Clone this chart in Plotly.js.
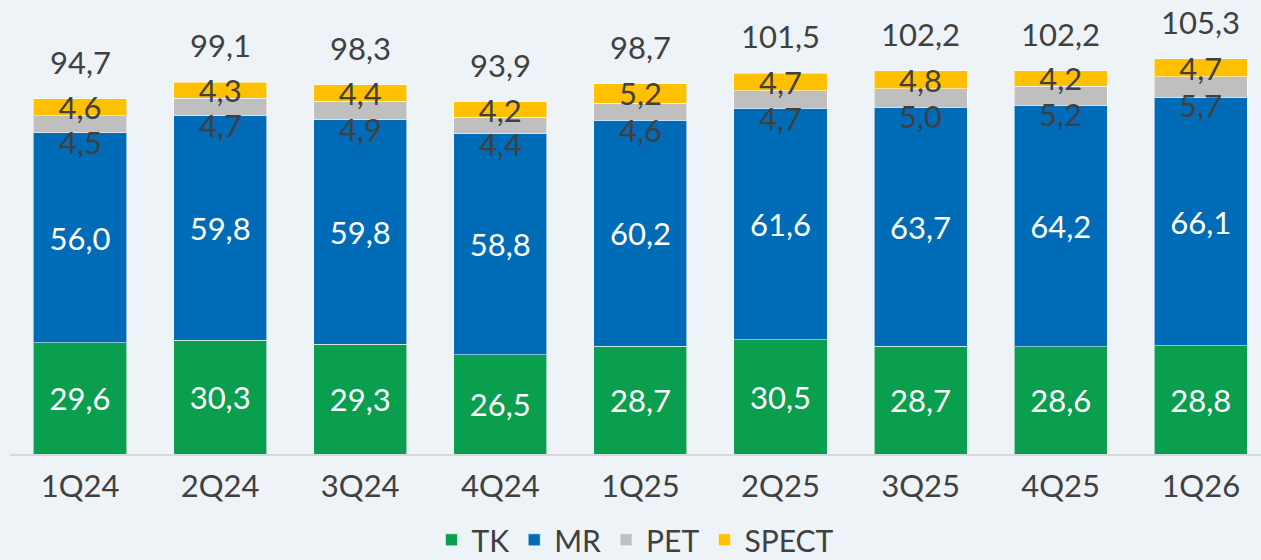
<!DOCTYPE html>
<html>
<head>
<meta charset="utf-8">
<script src="https://cdn.plot.ly/plotly-3.0.1.min.js"></script>
<style>
  html, body { margin: 0; padding: 0; background: #eef3f7; }
  #plot { width: 1261px; height: 560px; }
</style>
</head>
<body>
<div id="plot"></div>
<script>
// quarters
var quarters = ['1Q24', '2Q24', '3Q24', '4Q24', '1Q25', '2Q25', '3Q25', '4Q25', '1Q26'];

// values by segment
var tk = [29.6, 30.3, 29.3, 26.5, 28.7, 30.5, 28.7, 28.6, 28.8];
var mr = [56.0, 59.8, 59.8, 58.8, 60.2, 61.6, 63.7, 64.2, 66.1];
var pet = [4.5, 4.7, 4.9, 4.4, 4.6, 4.7, 5.0, 5.2, 5.7];
var spect = [4.6, 4.3, 4.4, 4.2, 5.2, 4.7, 4.8, 4.2, 4.7];
var totals = [94.7, 99.1, 98.3, 93.9, 98.7, 101.5, 102.2, 102.2, 105.3];

var fontName = 'Lato, "Open Sans", sans-serif';
var fontSize = 31;
var darkText = '#404040';
var edge = { color: 'rgba(255,255,255,0.55)', width: 1 };

function barTrace(name, values, color, textColor, showText) {
    return {
        x: quarters,
        y: values,
        type: 'bar',
        name: name,
        marker: { color: color, line: edge },
        texttemplate: showText ? '%{y:.1f}' : '',
        textposition: showText ? 'inside' : 'none',
        insidetextanchor: 'middle',
        textangle: 0,
        constraintext: 'none',
        insidetextfont: { family: fontName, size: fontSize, color: textColor },
        hoverinfo: 'x+y+name'
    };
}

var data = [
    barTrace('TK', tk, '#0a9e4f', '#ffffff', true),
    barTrace('MR', mr, '#006bb6', '#ffffff', true),
    barTrace('PET', pet, '#bfbfbf', darkText, false),
    barTrace('SPECT', spect, '#ffc000', darkText, true)
];

// PET labels sit a bit lower than their segment, totals above each bar
var annotations = [];
for (var i = 0; i < quarters.length; i++) {
    annotations.push({
        x: quarters[i],
        y: tk[i] + mr[i] + pet[i] / 2,
        text: pet[i].toFixed(1).replace('.', ','),
        showarrow: false,
        yshift: -18,
        font: { family: fontName, size: fontSize, color: darkText }
    });
    annotations.push({
        x: quarters[i],
        y: totals[i],
        text: totals[i].toFixed(1).replace('.', ','),
        showarrow: false,
        yanchor: 'bottom',
        yshift: 16,
        font: { family: fontName, size: fontSize, color: darkText }
    });
}

var layout = {
    barmode: 'stack',
    bargap: 0.335,
    separators: ',.',
    paper_bgcolor: '#eef3f7',
    plot_bgcolor: '#eef3f7',
    margin: { l: 10, r: 0, t: 0, b: 106, autoexpand: false },
    font: { family: fontName, size: fontSize, color: darkText },
    xaxis: {
        range: [-0.5, 8.43],
        showline: true,
        linecolor: '#d6d9dc',
        linewidth: 2,
        ticks: '',
        ticklabelstandoff: 4,
        tickfont: { family: fontName, size: fontSize, color: darkText },
        fixedrange: true
    },
    yaxis: {
        range: [0, 121],
        visible: false,
        showgrid: false,
        zeroline: false,
        fixedrange: true
    },
    showlegend: true,
    legend: {
        orientation: 'h',
        x: 0.5,
        xanchor: 'center',
        y: -0.189,
        yanchor: 'middle',
        traceorder: 'normal',
        font: { family: fontName, size: 30, color: darkText },
        itemwidth: 30,
        tracegroupgap: 0,
        bgcolor: 'rgba(0,0,0,0)'
    },
    annotations: annotations
};

Plotly.newPlot('plot', data, layout, { displayModeBar: false, staticPlot: true });
</script>
</body>
</html>
